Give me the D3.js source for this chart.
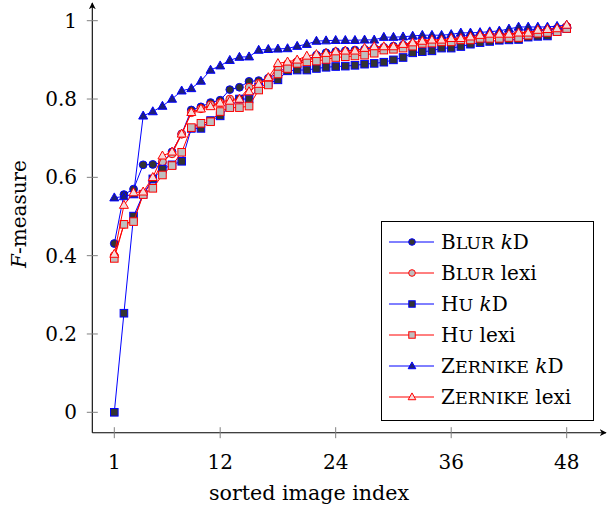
<!DOCTYPE html>
<html>
<head>
<meta charset="utf-8">
<script src="https://cdn.jsdelivr.net/npm/d3@7/dist/d3.min.js"></script>
<style>
  body { margin: 0; background: #fff; }
  svg { display: block; }
  text { font-family: "DejaVu Serif", "Liberation Serif", serif; fill: #000; }
</style>
</head>
<body>
<svg id="chart" width="608" height="510"></svg>
<script>
// sorted image index 1..48
const imageIndex = d3.range(1, 49);

// F-measure per sorted image, one array per method
const blurKD = [0.431, 0.556, 0.570, 0.632, 0.633, 0.638, 0.665, 0.711, 0.772, 0.780, 0.791, 0.797,
  0.824, 0.830, 0.845, 0.847, 0.853, 0.866, 0.884, 0.895, 0.900, 0.912, 0.918, 0.921,
  0.923, 0.925, 0.927, 0.930, 0.932, 0.935, 0.938, 0.940, 0.944, 0.946, 0.948, 0.950,
  0.953, 0.955, 0.958, 0.960, 0.963, 0.965, 0.967, 0.970, 0.973, 0.976, 0.980, 0.985];
const blurLexi = [0.400, 0.480, 0.490, 0.557, 0.590, 0.640, 0.660, 0.710, 0.765, 0.775, 0.785, 0.790,
  0.800, 0.800, 0.830, 0.840, 0.850, 0.880, 0.890, 0.895, 0.900, 0.905, 0.910, 0.915,
  0.918, 0.920, 0.922, 0.925, 0.930, 0.932, 0.935, 0.940, 0.944, 0.946, 0.948, 0.950,
  0.953, 0.955, 0.958, 0.960, 0.963, 0.965, 0.968, 0.970, 0.974, 0.977, 0.980, 0.985];
const huKD = [0.000, 0.253, 0.501, 0.557, 0.596, 0.621, 0.632, 0.641, 0.725, 0.725, 0.745, 0.757,
  0.780, 0.800, 0.800, 0.830, 0.840, 0.849, 0.872, 0.874, 0.874, 0.878, 0.881, 0.883,
  0.884, 0.886, 0.889, 0.891, 0.894, 0.900, 0.906, 0.918, 0.921, 0.923, 0.930, 0.930,
  0.934, 0.940, 0.944, 0.947, 0.950, 0.951, 0.952, 0.958, 0.960, 0.961, 0.972, 0.980];
const huLexi = [0.393, 0.480, 0.487, 0.556, 0.572, 0.606, 0.630, 0.664, 0.727, 0.738, 0.742, 0.768,
  0.778, 0.778, 0.782, 0.823, 0.836, 0.864, 0.878, 0.891, 0.895, 0.897, 0.901, 0.906,
  0.908, 0.910, 0.912, 0.917, 0.925, 0.927, 0.930, 0.935, 0.942, 0.943, 0.946, 0.946,
  0.951, 0.951, 0.955, 0.955, 0.955, 0.957, 0.957, 0.963, 0.968, 0.970, 0.972, 0.980];
const zernikeKD = [0.548, 0.551, 0.556, 0.757, 0.768, 0.782, 0.800, 0.821, 0.827, 0.846, 0.874, 0.885,
  0.899, 0.907, 0.908, 0.925, 0.927, 0.928, 0.929, 0.935, 0.940, 0.948, 0.949, 0.950,
  0.950, 0.950, 0.951, 0.951, 0.958, 0.958, 0.959, 0.961, 0.963, 0.963, 0.963, 0.965,
  0.969, 0.969, 0.970, 0.972, 0.974, 0.979, 0.984, 0.984, 0.984, 0.984, 0.986, 0.989];
const zernikeLexi = [0.404, 0.529, 0.561, 0.563, 0.600, 0.655, 0.665, 0.711, 0.766, 0.775, 0.781, 0.790,
  0.795, 0.800, 0.819, 0.838, 0.855, 0.891, 0.895, 0.900, 0.910, 0.914, 0.917, 0.921,
  0.923, 0.923, 0.930, 0.934, 0.934, 0.934, 0.940, 0.944, 0.948, 0.951, 0.951, 0.955,
  0.955, 0.959, 0.963, 0.966, 0.966, 0.966, 0.969, 0.969, 0.976, 0.978, 0.980, 0.989];

const xTickValues = [1, 12, 24, 36, 48];
const yTickValues = [0, 0.2, 0.4, 0.6, 0.8, 1];
const yTickLabels = ["0", "0.2", "0.4", "0.6", "0.8", "1"];
const xTitle = "sorted image index";

// legend labels: method (set in small caps) and variant
const methodNames = ["Blur", "Blur", "Hu", "Hu", "Zernike", "Zernike"];
const variantNames = ["kD", "lexi", "kD", "lexi", "kD", "lexi"];

const BLUE = "#0000ff", RED = "#ff0000";
const series = [
  { values: blurKD,      shape: "circle",   stroke: BLUE, fill: "#333333" },
  { values: blurLexi,    shape: "circle",   stroke: RED,  fill: "#bfbfbf" },
  { values: huKD,        shape: "square",   stroke: BLUE, fill: "#333333" },
  { values: huLexi,      shape: "square",   stroke: RED,  fill: "#bfbfbf" },
  { values: zernikeKD,   shape: "triangle", stroke: BLUE, fill: "#1f1f7a" },
  { values: zernikeLexi, shape: "triangle", stroke: RED,  fill: "#f6dada" }
];

const svg = d3.select("#chart");

const x = d3.scaleLinear().domain([1, 48]).range([114.3, 566.7]);
const y = d3.scaleLinear().domain([0, 1]).range([412.3, 20.7]);

const axisX0 = 92.3, axisY0 = 432.7;

// axis lines with arrow heads
const defs = svg.append("defs");
defs.append("marker")
  .attr("id", "arrow").attr("viewBox", "0 0 10 10")
  .attr("refX", 9).attr("refY", 5)
  .attr("markerWidth", 7).attr("markerHeight", 7)
  .attr("markerUnits", "userSpaceOnUse")
  .attr("orient", "auto")
  .append("path").attr("d", "M0,0 L10,5 L0,10 L3,5 Z").attr("fill", "#000");

svg.append("line")
  .attr("x1", axisX0).attr("y1", axisY0).attr("x2", 606).attr("y2", axisY0)
  .attr("stroke", "#000").attr("stroke-width", 1.1).attr("marker-end", "url(#arrow)");
svg.append("line")
  .attr("x1", axisX0).attr("y1", axisY0).attr("x2", axisX0).attr("y2", 3)
  .attr("stroke", "#000").attr("stroke-width", 1.1).attr("marker-end", "url(#arrow)");

// ticks
const tickLen = 5.5;
svg.append("g").selectAll("line").data(xTickValues).join("line")
  .attr("x1", d => x(d)).attr("x2", d => x(d))
  .attr("y1", axisY0 - tickLen).attr("y2", axisY0 + tickLen)
  .attr("stroke", "#808080").attr("stroke-width", 1);
svg.append("g").selectAll("text").data(xTickValues).join("text")
  .attr("x", d => x(d)).attr("y", 469)
  .attr("text-anchor", "middle").attr("font-size", 20)
  .text(d => d);

svg.append("g").selectAll("line").data(yTickValues).join("line")
  .attr("x1", axisX0 - tickLen).attr("x2", axisX0 + tickLen)
  .attr("y1", d => y(d)).attr("y2", d => y(d))
  .attr("stroke", "#808080").attr("stroke-width", 1);
svg.append("g").selectAll("text").data(yTickValues).join("text")
  .attr("x", 77).attr("y", d => y(d) + 7)
  .attr("text-anchor", "end").attr("font-size", 20)
  .text((d, i) => yTickLabels[i]);

// axis titles
svg.append("text")
  .attr("x", 309).attr("y", 500)
  .attr("text-anchor", "middle").attr("font-size", 20.6)
  .text(xTitle);

const yTitle = svg.append("text")
  .attr("transform", "translate(26,214) rotate(-90)")
  .attr("text-anchor", "middle").attr("font-size", 20);
yTitle.append("tspan").attr("font-style", "italic").text("F");
yTitle.append("tspan").text("-measure");

// marker drawing
function drawMarker(g, shape, cx, cy, scale, stroke, fill) {
  if (shape === "circle") {
    g.append("circle").attr("cx", cx).attr("cy", cy).attr("r", 3.9 * scale)
      .attr("fill", fill).attr("stroke", stroke).attr("stroke-width", 1);
  } else if (shape === "square") {
    const s = 7.6 * scale;
    g.append("rect").attr("x", cx - s / 2).attr("y", cy - s / 2)
      .attr("width", s).attr("height", s)
      .attr("fill", fill).attr("stroke", stroke).attr("stroke-width", 1);
  } else {
    const h = 8 * scale, w = 9 * scale;
    g.append("path")
      .attr("d", `M${cx},${cy - h * 0.6} L${cx + w / 2},${cy + h * 0.4} L${cx - w / 2},${cy + h * 0.4} Z`)
      .attr("fill", fill).attr("stroke", stroke).attr("stroke-width", 1);
  }
}

const line = d3.line().x((d, i) => x(imageIndex[i])).y(d => y(d));

series.forEach(s => {
  const g = svg.append("g");
  g.append("path").attr("d", line(s.values))
    .attr("fill", "none").attr("stroke", s.stroke).attr("stroke-width", 1);
  s.values.forEach((v, i) => drawMarker(g, s.shape, x(imageIndex[i]), y(v), 1, s.stroke, s.fill));
});

// legend
const lg = svg.append("g");
lg.append("rect").attr("x", 381.5).attr("y", 221.5).attr("width", 212).attr("height", 199)
  .attr("fill", "#fff").attr("stroke", "#000").attr("stroke-width", 1);

series.forEach((s, k) => {
  const cy = 242 + k * 31;
  lg.append("line").attr("x1", 389).attr("x2", 434).attr("y1", cy).attr("y2", cy)
    .attr("stroke", s.stroke).attr("stroke-width", 1);
  drawMarker(lg, s.shape, 412, cy, 0.85, s.stroke, s.fill);
  const t = lg.append("text").attr("x", 441).attr("y", cy + 7).attr("font-size", 20);
  const word = methodNames[k];
  t.append("tspan").text(word[0]);
  t.append("tspan").attr("font-size", 17.5).text(word.slice(1).toUpperCase());
  t.append("tspan").text(" ");
  if (variantNames[k] === "kD") {
    t.append("tspan").attr("font-style", "italic").text("k");
    t.append("tspan").text("D");
  } else {
    t.append("tspan").text(variantNames[k]);
  }
});
</script>
</body>
</html>
